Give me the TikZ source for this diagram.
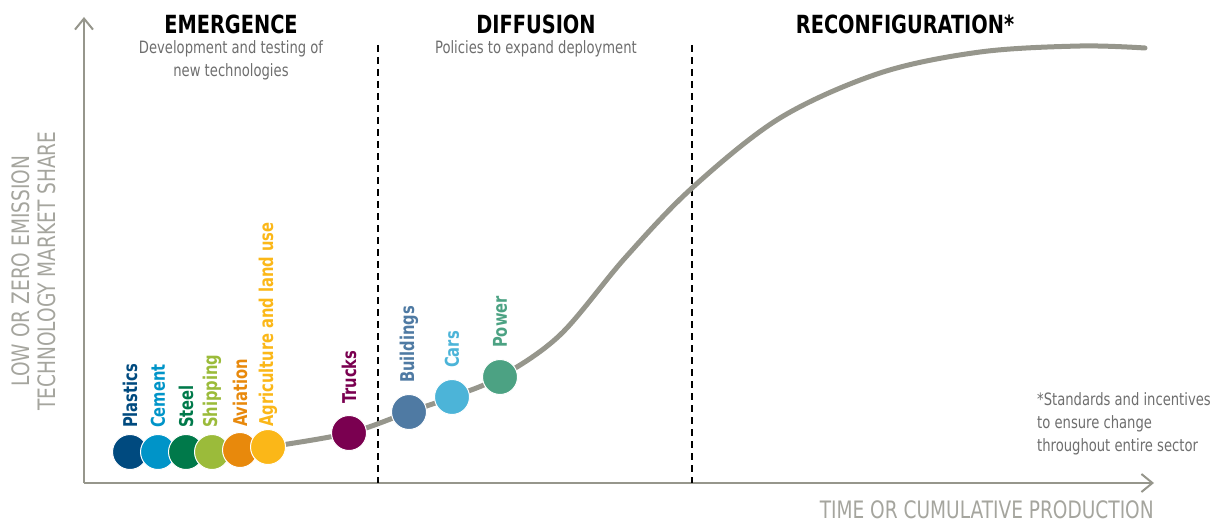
\documentclass[tikz,border=0pt]{standalone}
\usepackage{fontspec}
\setmainfont{DejaVu Sans Condensed}
\newfontfamily\narrowfont[FakeStretch=0.86]{DejaVu Sans Condensed}
\usetikzlibrary{positioning}
\usetikzlibrary{arrows.meta}
\definecolor{axisgray}{RGB}{150,150,140}
\definecolor{labelgray}{RGB}{165,165,158}
\definecolor{textgray}{RGB}{110,110,110}
\definecolor{plasticsc}{RGB}{0,74,127}
\definecolor{cementc}{RGB}{0,148,200}
\definecolor{steelc}{RGB}{0,121,74}
\definecolor{shippingc}{RGB}{155,187,58}
\definecolor{aviationc}{RGB}{232,137,12}
\definecolor{agric}{RGB}{251,183,24}
\definecolor{trucksc}{RGB}{122,0,80}
\definecolor{buildingsc}{RGB}{79,122,163}
\definecolor{carsc}{RGB}{76,180,216}
\definecolor{powerc}{RGB}{76,162,131}

\begin{document}
\begin{tikzpicture}[x=1pt, y=-1pt, align=center]
       \narrowfont
       \tikzstyle{axis} = [axisgray, line width=2pt, -{Straight Barb[length=11pt, width=18pt, line width=2pt]}]
       \tikzstyle{phase} = [black, line width=1.5pt, dash pattern=on 7pt off 5pt]
       \tikzstyle{title} = [font=\narrowfont\bfseries\fontsize{25}{27}\selectfont]
       \tikzstyle{sub} = [textgray, font=\narrowfont\fontsize{17}{23}\selectfont]
       \tikzstyle{axislabel} = [labelgray, font=\narrowfont\fontsize{24}{26}\selectfont]
       \tikzstyle{dot} = [circle, draw=white, line width=1pt, minimum size=35pt, inner sep=0pt]
       \tikzstyle{sector} = [rotate=90, inner sep=0pt, font=\narrowfont\bfseries\fontsize{19}{21}\selectfont]
       \useasboundingbox (0,0) rectangle (1214,524);

       % axes
       \coordinate (origin) at (84,483);
       \coordinate (ytip) at (84,17);
       \coordinate (xtip) at (1154,483);
       \draw[axis] (origin) -- (ytip);
       \draw[axis] (origin) -- (xtip);

       % phase borders
       \coordinate (d1top) at (378,45);
       \coordinate (d1bot) at (378,483);
       \coordinate (d2top) at (692,45);
       \coordinate (d2bot) at (692,483);
       \draw[phase] (d1top) -- (d1bot);
       \draw[phase] (d2top) -- (d2bot);

       % s-curve
       \draw[axisgray, line width=5pt, line cap=round] plot[smooth, tension=0.55] coordinates {
           (268,447) (349,433) (409,412) (452,397) (500,377) (560,335) (625,258)
           (692,188) (780,118) (880,73) (980,52) (1080,46) (1145,48)};

       % sectors
       \node (plastics) [dot, fill=plasticsc] at (130,452) {};
       \node (cement) [dot, fill=cementc] at (158,452) {};
       \node (steel) [dot, fill=steelc] at (186,452) {};
       \node (shipping) [dot, fill=shippingc] at (212,452) {};
       \node (aviation) [dot, fill=aviationc] at (240,450) {};
       \node (agri) [dot, fill=agric] at (268,447) {};
       \node (trucks) [dot, fill=trucksc] at (349,433) {};
       \node (buildings) [dot, fill=buildingsc] at (409,412) {};
       \node (cars) [dot, fill=carsc] at (452,397) {};
       \node (power) [dot, fill=powerc] at (500,377) {};

       \node [sector, plasticsc, above=6pt of plastics, anchor=west] {Plastics};
       \node [sector, cementc, above=6pt of cement, anchor=west] {Cement};
       \node [sector, steelc, above=6pt of steel, anchor=west] {Steel};
       \node [sector, shippingc, above=6pt of shipping, anchor=west] {Shipping};
       \node [sector, aviationc, above=5pt of aviation, anchor=west] {Aviation};
       \node [sector, agric, above=2pt of agri, anchor=west] {Agriculture and land use};
       \node [sector, trucksc, above=11pt of trucks, anchor=west] {Trucks};
       \node [sector, buildingsc, above=11pt of buildings, anchor=west] {Buildings};
       \node [sector, carsc, above=11pt of cars, anchor=west] {Cars};
       \node [sector, powerc, above=11pt of power, anchor=west] {Power};

       % phases
       \node (emergence) [title] at (231,24) {EMERGENCE};
       \node (diffusion) [title] at (536,24) {DIFFUSION};
       \node (reconfig) [title] at (905,24) {RECONFIGURATION*};
       \node (emergsub) [sub, below=0pt of emergence] {Development and testing of\\new technologies};
       \node (diffsub) [sub, below=0pt of diffusion] {Policies to expand deployment};

       % labels
       \node (ylabel) [axislabel, rotate=90] at (34,271) {LOW OR ZERO EMISSION\\TECHNOLOGY MARKET SHARE};
       \node (xlabel) [axislabel, anchor=base east, inner sep=0pt] at (1154,518) {TIME OR CUMULATIVE PRODUCTION};
       \node (note) [sub, align=left, anchor=north west, inner sep=0pt] at (1037,392) {*Standards and incentives\\to ensure change\\throughout entire sector};
\end{tikzpicture}
\end{document}
